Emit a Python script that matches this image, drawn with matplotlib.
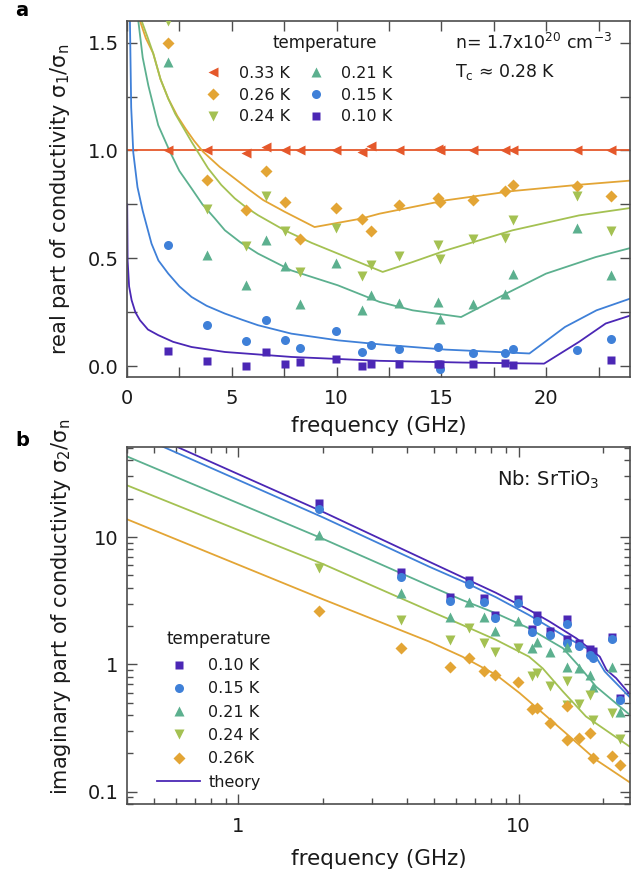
import numpy as np
import matplotlib
matplotlib.use('Agg')
import matplotlib.pyplot as plt
from matplotlib.ticker import MultipleLocator, LogLocator, FixedLocator, FixedFormatter, NullFormatter

plt.rcParams['font.family'] = ['DejaVu Sans']
plt.rcParams['mathtext.default'] = 'regular'

# measured points (GHz)
freq = [1.94, 3.82, 5.67, 6.65, 7.52, 8.25, 9.99, 11.2, 11.62, 13.0,
        14.85, 14.95, 16.49, 18.05, 18.4, 21.49, 23.11]

temps = ['0.33 K', '0.26 K', '0.24 K', '0.21 K', '0.15 K', '0.10 K']
colors = ['#E5582B', '#E3A535', '#A4C152', '#5CB08F', '#3F80D8', '#4B27B5']
markers = ['<', 'D', 'v', '^', 'o', 's']

# real part sigma1/sigman
s1_033 = [1.0, 1.0, 0.99, 1.015, 1.0, 1.0, 1.0, 0.995, 1.02, 1.0, 1.005, 1.0, 1.0, 1.0, 1.0, 1.0, 1.0]
s1_026 = [1.50, 0.864, 0.722, 0.907, 0.761, 0.588, 0.733, 0.681, 0.625, 0.745, 0.78, 0.761, 0.769, 0.812, 0.841, 0.833, 0.790]
s1_024 = [1.60, 0.727, 0.557, 0.79, 0.627, 0.437, 0.642, 0.417, 0.471, 0.509, 0.56, 0.498, 0.591, 0.596, 0.679, 0.787, 0.625]
s1_021 = [1.409, 0.514, 0.375, 0.586, 0.463, 0.287, 0.48, 0.262, 0.329, 0.293, 0.296, 0.22, 0.29, 0.333, 0.426, 0.64, 0.421]
s1_015 = [0.56, 0.193, 0.116, 0.216, 0.12, 0.085, 0.162, 0.068, 0.097, 0.079, 0.088, -0.015, 0.062, 0.062, 0.079, 0.074, 0.125]
s1_010 = [0.071, 0.025, 0.0, 0.066, 0.012, 0.02, 0.035, 0.003, 0.008, 0.008, 0.012, 0.01, 0.008, 0.017, 0.005, np.nan, 0.028]

# theory curves, panel a
th1_033_f = [0.0, 24.5]
th1_033 = [1.0, 1.0]
th1_026_f = [0.62, 0.9, 1.25, 1.6, 1.97, 2.4, 2.8, 3.2, 3.63, 4.43, 5.14, 5.8, 6.5, 7.52, 8.95, 11.17, 12.05, 15.22, 18.4, 21.57, 24.5]
th1_026 = [1.6, 1.52, 1.45, 1.33, 1.24, 1.16, 1.10, 1.045, 0.994, 0.923, 0.87, 0.82, 0.77, 0.716, 0.645, 0.684, 0.707, 0.769, 0.812, 0.841, 0.864]
th1_024_f = [0.7, 1.0, 1.25, 1.6, 1.97, 2.3, 2.6, 3.08, 3.87, 4.5, 5.14, 5.7, 6.25, 7.52, 8.8, 10.06, 12.2, 13.63, 15.22, 18.4, 21.57, 24.5]
th1_024 = [1.6, 1.52, 1.45, 1.33, 1.24, 1.17, 1.12, 1.04, 0.917, 0.84, 0.778, 0.735, 0.70, 0.63, 0.572, 0.522, 0.437, 0.483, 0.537, 0.63, 0.699, 0.74]
th1_021_f = [0.54, 0.75, 1.02, 1.49, 2.05, 2.5, 3.08, 3.6, 4.19, 4.67, 5.4, 6.25, 7.84, 10.06, 12.05, 13.63, 15.94, 18.08, 19.99, 22.37, 24.5]
th1_021 = [1.6, 1.43, 1.30, 1.117, 0.994, 0.905, 0.824, 0.75, 0.685, 0.63, 0.575, 0.522, 0.444, 0.375, 0.298, 0.259, 0.228, 0.336, 0.429, 0.506, 0.56]
th1_015_f = [0.1, 0.14, 0.2, 0.3, 0.5, 0.75, 1.17, 1.5, 1.97, 2.5, 3.08, 3.8, 4.67, 5.5, 6.25, 7.84, 10.06, 12.2, 15.2, 19.2, 20.9, 22.4, 24.5]
th1_015 = [1.7, 1.6, 1.2, 0.99, 0.83, 0.72, 0.568, 0.49, 0.429, 0.37, 0.321, 0.28, 0.244, 0.215, 0.19, 0.151, 0.12, 0.1, 0.077, 0.059, 0.182, 0.259, 0.33]
th1_010_f = [0.01, 0.03, 0.1, 0.22, 0.4, 0.62, 1.0, 1.49, 2.2, 3.08, 4.67, 7.84, 12.05, 16.0, 19.9, 21.57, 22.84, 24.5]
th1_010 = [0.75, 0.49, 0.37, 0.306, 0.25, 0.213, 0.17, 0.144, 0.113, 0.089, 0.066, 0.043, 0.025, 0.017, 0.012, 0.113, 0.198, 0.25]

# imaginary part sigma2/sigman
s2_026 = [2.64, 1.34, 0.96, 1.12, 0.88, 0.83, 0.733, 0.445, 0.453, 0.346, 0.467, 0.256, 0.264, 0.288, 0.184, 0.191, 0.161]
s2_024 = [5.68, 2.23, 1.56, 1.92, 1.47, 1.24, 1.34, 0.81, 0.853, 0.678, 0.746, 0.481, 0.49, 0.576, 0.367, 0.414, 0.259]
s2_021 = [10.4, 3.62, 2.37, 3.11, 2.35, 1.84, 2.21, 1.34, 1.51, 1.26, 1.38, 0.95, 0.93, 0.83, 0.67, 0.95, 0.42]
s2_015 = [16.5, 4.88, 3.16, 4.28, 3.07, 2.30, 3.05, 1.78, 2.21, 1.70, 2.08, 1.47, 1.40, 1.19, 1.12, 1.58, 0.527]
s2_010 = [18.6, 5.34, 3.37, 4.6, 3.30, 2.44, 3.25, 1.89, 2.44, 1.84, 2.26, 1.58, 1.48, 1.32, 1.28, 1.65, 0.543]

# theory curves, panel b
th2_026_f = [0.4, 2.0, 4.8, 6.3, 8.3, 10.1, 12.6, 15.2, 18.9, 25.0]
th2_026 = [13.8, 3.25, 1.51, 1.15, 0.83, 0.594, 0.39, 0.272, 0.178, 0.118]
th2_024_f = [0.4, 2.0, 4.8, 6.3, 8.3, 10.9, 12.2, 14.4, 17.4, 25.0]
th2_024 = [25.5, 6.15, 2.64, 2.04, 1.56, 1.15, 0.93, 0.612, 0.39, 0.225]
th2_021_f = [0.4, 2.0, 4.8, 6.3, 8.3, 10.9, 14.4, 16.5, 18.9, 25.0]
th2_021 = [43.0, 9.7, 4.15, 3.2, 2.52, 1.92, 1.34, 0.96, 0.67, 0.40]
th2_015_f = [0.5, 2.0, 4.8, 6.3, 8.3, 10.9, 15.2, 18.4, 20.3, 25.0]
th2_015 = [55.0, 14.3, 5.85, 4.5, 3.37, 2.44, 1.58, 1.26, 0.88, 0.55]
th2_010_f = [0.55, 2.0, 4.8, 8.3, 10.9, 12.9, 16.1, 19.5, 20.6, 22.3, 25.0]
th2_010 = [56.0, 15.8, 6.4, 3.65, 2.68, 2.17, 1.60, 1.15, 0.905, 0.78, 0.58]

s1_data = [s1_033, s1_026, s1_024, s1_021, s1_015, s1_010]
th1_data = [(th1_033_f, th1_033), (th1_026_f, th1_026), (th1_024_f, th1_024),
            (th1_021_f, th1_021), (th1_015_f, th1_015), (th1_010_f, th1_010)]
s2_data = [None, s2_026, s2_024, s2_021, s2_015, s2_010]
th2_data = [None, (th2_026_f, th2_026), (th2_024_f, th2_024), (th2_021_f, th2_021),
            (th2_015_f, th2_015), (th2_010_f, th2_010)]
msizes = [7, 6, 7, 7, 6.5, 6]

fig = plt.figure(figsize=(6.31, 8.77), dpi=100)
W, H = 631, 877
axa = fig.add_axes([127 / W, 1 - 377 / H, 503 / W, 356 / H])
axb = fig.add_axes([127 / W, 1 - 804 / H, 503 / W, 357 / H])

spine_c = '0.3'


def style(ax):
    for s in ax.spines.values():
        s.set_color(spine_c)
        s.set_linewidth(1.2)
    ax.tick_params(which='both', direction='in', top=True, right=True, color=spine_c,
                   labelsize=14, labelcolor='0.1', width=1.0)
    ax.tick_params(which='major', length=7)
    ax.tick_params(which='minor', length=5)


# ---- panel a
handles_a = []
for k in range(6):
    fx, fy = th1_data[k]
    axa.plot(fx, fy, color=colors[k], lw=1.3, zorder=2)
for k in range(6):
    h, = axa.plot(freq, s1_data[k], ls='none', marker=markers[k], ms=msizes[k],
                  color=colors[k], mec='none', zorder=3)
    handles_a.append(h)

axa.set_xlim(0, 24)
axa.set_ylim(-0.05, 1.6)
axa.xaxis.set_major_locator(MultipleLocator(5))
axa.xaxis.set_minor_locator(MultipleLocator(2.5))
axa.yaxis.set_major_locator(MultipleLocator(0.5))
axa.yaxis.set_minor_locator(MultipleLocator(0.25))
axa.yaxis.set_major_formatter(plt.FormatStrFormatter('%.1f'))
style(axa)
axa.tick_params(which='minor', length=7)
axa.tick_params(axis='x', pad=9)
axa.tick_params(axis='y', pad=6)
axa.set_xlabel('frequency (GHz)', fontsize=15.5, color='0.1')
axa.set_ylabel(r'real part of conductivity $\sigma_1/\sigma_n$', fontsize=15, color='0.1')
axa.xaxis.set_label_coords(0.5, -0.11)
axa.yaxis.set_label_coords(-0.109, 0.5)

leg = axa.legend(handles_a, temps, ncol=2, loc='upper left',
                 bbox_to_anchor=(0.140, 0.896), frameon=False, fontsize=11.5,
                 handlelength=1.0, handletextpad=1.1,
                 columnspacing=1.1, labelspacing=0.42, borderpad=0)
for t in leg.get_texts():
    t.set_color('0.1')
axa.text(0.394, 0.938, 'temperature', transform=axa.transAxes, fontsize=12,
         ha='center', va='center', color='0.1')

axa.text(0.652, 0.938, r'n= 1.7x10$^{20}$ cm$^{-3}$', transform=axa.transAxes,
         fontsize=12.5, va='center', ha='left', color='0.1')
axa.text(0.652, 0.857, r'T$_c$ ≈ 0.28 K', transform=axa.transAxes,
         fontsize=12.5, va='center', ha='left', color='0.1')

# ---- panel b
handles_b = []
labels_b = ['0.10 K', '0.15 K', '0.21 K', '0.24 K', '0.26K']
for k in range(1, 6):
    fx, fy = th2_data[k]
    axb.plot(fx, fy, color=colors[k], lw=1.3, zorder=2)
for k in [5, 4, 3, 2, 1]:
    h, = axb.plot(freq, s2_data[k], ls='none', marker=markers[k], ms=msizes[k],
                  color=colors[k], mec='none', zorder=3)
    handles_b.append(h)
axb.set_xscale('log')
axb.set_yscale('log')
axb.set_xlim(0.4, 25)
axb.set_ylim(0.08, 51)
style(axb)
axb.xaxis.set_major_locator(FixedLocator([1, 10]))
axb.xaxis.set_major_formatter(FixedFormatter(['1', '10']))
axb.yaxis.set_major_locator(FixedLocator([0.1, 1, 10]))
axb.yaxis.set_major_formatter(FixedFormatter(['0.1', '1', '10']))
axb.xaxis.set_minor_locator(LogLocator(base=10, subs=np.arange(2, 10)))
axb.yaxis.set_minor_locator(LogLocator(base=10, subs=np.arange(2, 10)))
axb.xaxis.set_minor_formatter(NullFormatter())
axb.yaxis.set_minor_formatter(NullFormatter())
axb.tick_params(which='minor', length=4)
axb.tick_params(axis='x', pad=9)
axb.tick_params(axis='y', pad=6)
axb.set_xlabel('frequency (GHz)', fontsize=15.5, color='0.1')
axb.set_ylabel(r'imaginary part of conductivity $\sigma_2/\sigma_n$', fontsize=15, color='0.1')
axb.xaxis.set_label_coords(0.5, -0.125)
axb.yaxis.set_label_coords(-0.107, 0.553)

th_handle, = axb.plot([], [], color=colors[5], lw=1.3)
legb = axb.legend(handles_b + [th_handle], labels_b + ['theory'],
                  loc='upper left', bbox_to_anchor=(0.044, 0.431), frameon=False,
                  fontsize=11.5, handlelength=2.7,
                  handletextpad=0.5, labelspacing=0.52, borderpad=0)
for t in legb.get_texts():
    t.set_color('0.1')
axb.text(0.183, 0.462, 'temperature', transform=axb.transAxes, fontsize=12,
         ha='center', va='center', color='0.1')

axb.text(0.736, 0.908, r'Nb: SrTiO$_3$', transform=axb.transAxes,
         fontsize=14, va='center', ha='left', color='0.1')

fig.text(15 / W, 1 - 10 / H, 'a', fontsize=14, fontweight='bold', va='center')
fig.text(15 / W, 1 - 440 / H, 'b', fontsize=14, fontweight='bold', va='center')

fig.savefig('out.png', dpi=100)
